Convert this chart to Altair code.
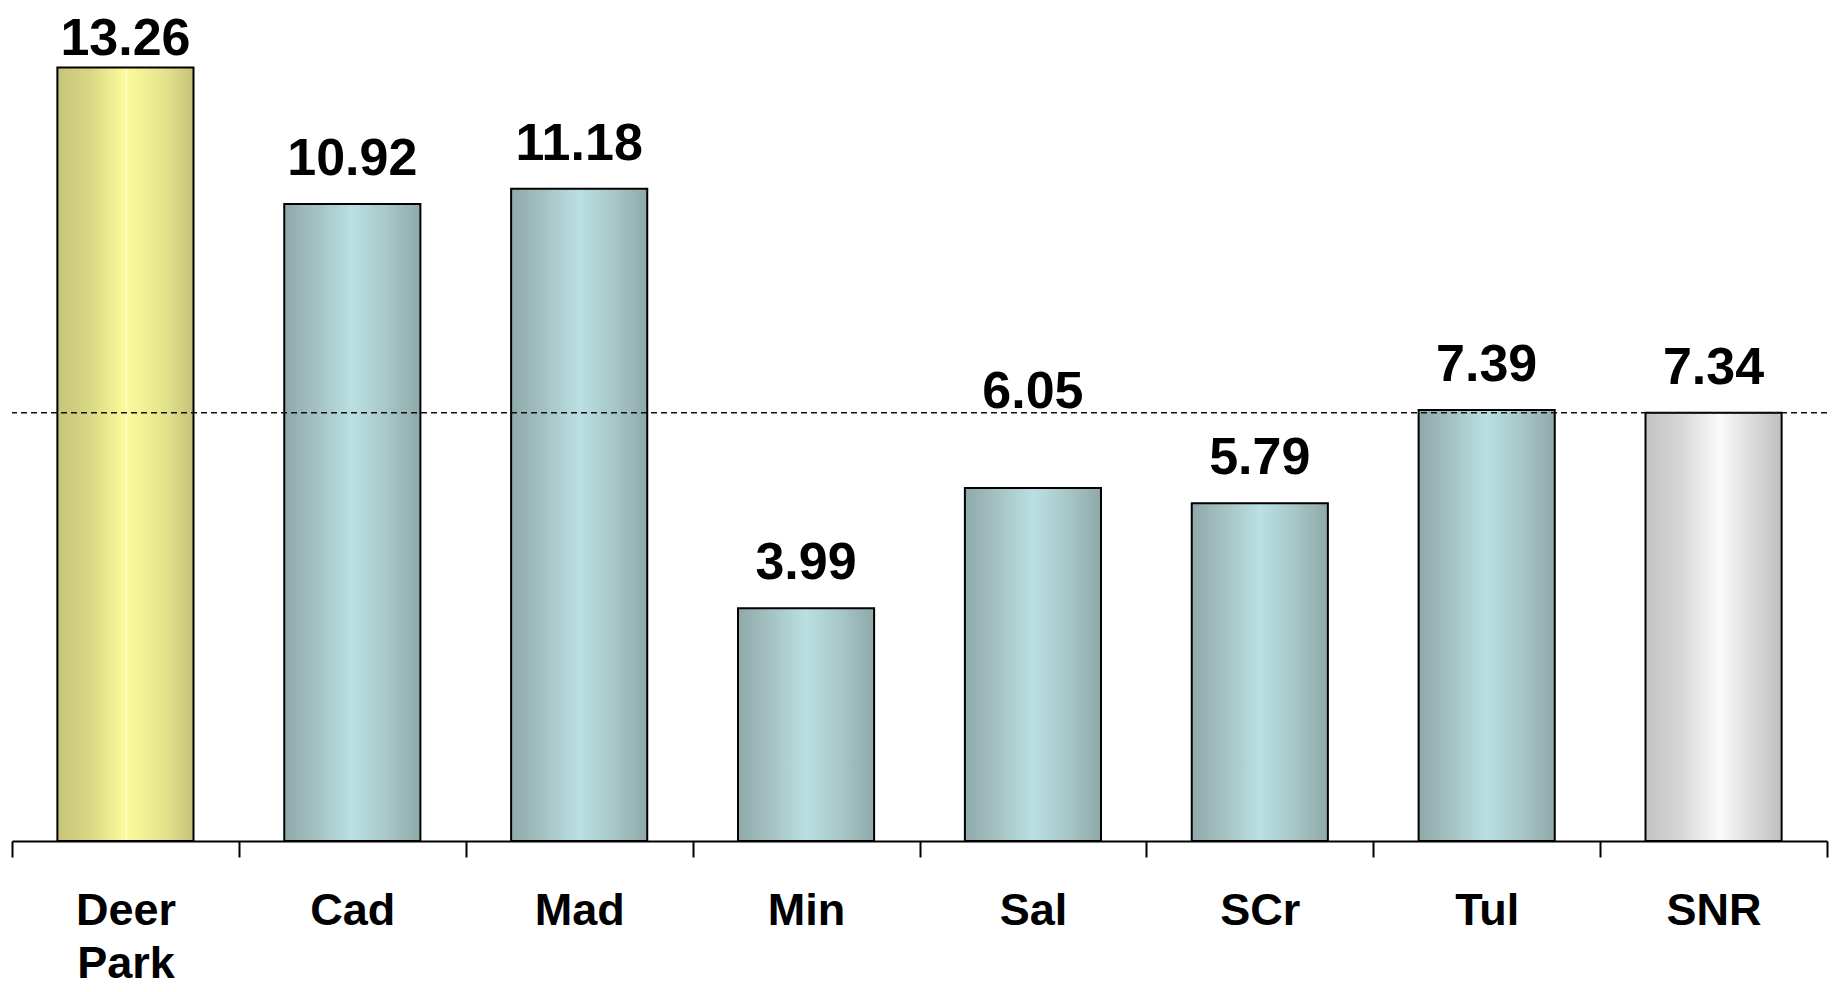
import altair as alt
import pandas as pd

categories = ["Deer Park", "Cad", "Mad", "Min", "Sal", "SCr", "Tul", "SNR"]
values = [13.26, 10.92, 11.18, 3.99, 6.05, 5.79, 7.39, 7.34]
groups = ["focus", "site", "site", "site", "site", "site", "site", "reference"]
labels = ["13.26", "10.92", "11.18", "3.99", "6.05", "5.79", "7.39", "7.34"]

df = pd.DataFrame({"cat": categories, "value": values, "group": groups, "label": labels})
ref_df = pd.DataFrame({"value": [values[-1]]})

FONT = "Liberation Sans"
Y_SCALE = alt.Scale(domain=[0, 14.28], nice=False, zero=True)


def grad(stops):
    return alt.LinearGradient(
        gradient="linear",
        stops=[alt.GradientStop(color=c, offset=o) for o, c in stops],
        x1=0, x2=1, y1=0, y2=0,
    )


yellow = grad([(0, "#C6C47A"), (0.25, "#D9D984"), (0.5, "#FCFC9C"), (0.505, "#FFFFF0"),
               (0.515, "#FAFA9C"), (0.8, "#E2E28C"), (1, "#C4C27A")])
teal = grad([(0, "#8FA9AA"), (0.25, "#A6C3C4"), (0.5, "#BAE0E2"), (0.75, "#A8C7C8"), (1, "#8FA9AA")])
gray = grad([(0, "#C2C2C2"), (0.25, "#D6D6D6"), (0.55, "#FAFAFA"), (0.8, "#D8D8D8"), (1, "#C0C0C0")])

x_enc = alt.X(
    "cat:N",
    sort=categories,
    scale=alt.Scale(paddingInner=0, paddingOuter=0),
    axis=alt.Axis(
        title=None,
        labelAngle=0,
        tickBand="extent",
        tickSize=16,
        tickWidth=2,
        tickColor="black",
        domainColor="black",
        domainWidth=2,
        labelFont=FONT,
        labelFontWeight="bold",
        labelFontSize=45,
        labelColor="black",
        labelPadding=31,
        labelBaseline="top",
        labelLineHeight=53,
        labelExpr="split(datum.label, ' ')",
    ),
)
y_enc = alt.Y("value:Q", scale=Y_SCALE, axis=None)

base = alt.Chart(df).encode(x=x_enc, y=y_enc)


def bars(group, fill):
    return base.transform_filter(alt.datum.group == group).mark_bar(
        color=fill, stroke="black", strokeWidth=2, width=alt.RelativeBandSize(0.6)
    )


def texts(cats, dy):
    return base.transform_filter(alt.FieldOneOfPredicate(field="cat", oneOf=cats)).mark_text(
        baseline="alphabetic", dy=dy, font=FONT, fontSize=52, fontWeight="bold", color="black"
    ).encode(text="label:N")


rule = alt.Chart(ref_df).mark_rule(strokeDash=[6, 4], strokeWidth=1.5, color="#111111").encode(
    y=alt.Y("value:Q", scale=Y_SCALE, axis=None)
)

chart = alt.layer(
    bars("focus", yellow),
    bars("site", teal),
    bars("reference", gray),
    rule,
    texts(["Cad", "Mad", "Min", "SCr", "Tul", "SNR"], -29),
    texts(["Deer Park"], -13),
    texts(["Sal"], -80),
).properties(
    width=1815,
    height=833,
    background="white",
    autosize=alt.AutoSizeParams(type="none"),
    padding={"left": 4, "right": 4, "top": 0, "bottom": 150},
).configure_view(strokeWidth=0, stroke="transparent")

chart.save("out.html", embed_options={"renderer": "svg", "actions": False})
